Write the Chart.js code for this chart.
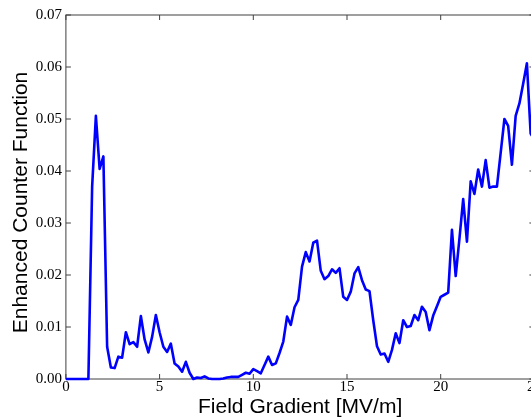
<!DOCTYPE html>
<html>
<head>
<meta charset="utf-8">
<script src="https://cdn.jsdelivr.net/npm/chart.js@4/dist/chart.umd.min.js"></script>
<style>
html,body{margin:0;padding:0;background:#fff;overflow:hidden;}
#wrap{width:550px;height:418px;}
</style>
</head>
<body>
<div id="wrap"><canvas id="c" width="550" height="418"></canvas></div>
<script>
// Field gradient [MV/m]
const fieldGradient = [
 0.0,0.2,0.4,0.6,0.8,1.0,1.2,1.4,1.6,1.8,
 2.0,2.2,2.4,2.6,2.8,3.0,3.2,3.4,3.6,3.8,
 4.0,4.2,4.4,4.6,4.8,5.0,5.2,5.4,5.6,5.8,
 6.0,6.2,6.4,6.6,6.8,7.0,7.2,7.4,7.6,7.8,
 8.0,8.2,8.4,8.6,8.8,9.0,9.2,9.4,9.6,9.8,
 10.0,10.2,10.4,10.6,10.8,11.0,11.2,11.4,11.6,11.8,
 12.0,12.2,12.4,12.6,12.8,13.0,13.2,13.4,13.6,13.8,
 14.0,14.2,14.4,14.6,14.8,15.0,15.2,15.4,15.6,15.8,
 16.0,16.2,16.4,16.6,16.8,17.0,17.2,17.4,17.6,17.8,
 18.0,18.2,18.4,18.6,18.8,19.0,19.2,19.4,19.6,19.8,
 20.0,20.2,20.4,20.6,20.8,21.0,21.2,21.4,21.6,21.8,
 22.0,22.2,22.4,22.6,22.8,23.0,23.2,23.4,23.6,23.8,
 24.0,24.2,24.4,24.6,24.8,25.0
];
// Enhanced counter function
const counterFunction = [
 0,0,0,0,0,0,0,0.037,0.0506,0.0404,
 0.0428,0.0062,0.0022,0.0021,0.0043,0.0041,0.0090,0.0067,0.0071,0.0062,
 0.0121,0.0076,0.0051,0.0081,0.0123,0.0090,0.0062,0.0052,0.0068,0.0030,
 0.0024,0.0014,0.0033,0.0012,0.0,0.0003,0.0002,0.0005,0.0001,0.0,
 0.0,0.0,0.0001,0.0003,0.0004,0.0004,0.0004,0.0008,0.0012,0.0010,
 0.0019,0.0015,0.0011,0.0027,0.0043,0.0027,0.0030,0.0050,0.0072,0.0120,
 0.0104,0.0138,0.0152,0.0216,0.0244,0.0226,0.0262,0.0266,0.0208,0.0192,
 0.0198,0.0211,0.0204,0.0213,0.0158,0.0152,0.0168,0.0203,0.0215,0.0190,
 0.0172,0.0169,0.0113,0.0063,0.0047,0.0049,0.0033,0.0056,0.0088,0.0069,
 0.0113,0.0100,0.0102,0.0123,0.0113,0.0139,0.0129,0.0094,0.0122,0.0140,
 0.0158,0.0162,0.0166,0.0287,0.0198,0.0270,0.0346,0.0264,0.0380,0.0356,
 0.0403,0.0370,0.0421,0.0368,0.0370,0.0370,0.0435,0.0500,0.0487,0.0412,
 0.0506,0.0530,0.0568,0.0607,0.0472,0.0460
];
const xTickValues = [0,5,10,15,20,25];
const yTickValues = [0,0.01,0.02,0.03,0.04,0.05,0.06,0.07];
const xTitle = 'Field Gradient [MV/m]';
const yTitle = 'Enhanced Counter Function';

const points = fieldGradient.map((x,i)=>({x:x, y:counterFunction[i]}));

const framePlugin = {
  id:'frame',
  beforeDraw(chart){
    const ys = chart.scales.y;
    if (ys && !ys.__shifted) {
      const orig = ys.drawTitle.bind(ys);
      ys.drawTitle = function(){
        const ctx = chart.ctx;
        ctx.save(); ctx.translate(0, 5.5); orig(); ctx.restore();
      };
      ys.__shifted = true;
    }
  },
  beforeDatasetsDraw(chart){
    const {ctx, chartArea:a, scales} = chart;
    const xs = scales.x, ys = scales.y;
    ctx.save();
    ctx.strokeStyle = '#404040';
    ctx.lineWidth = 1;
    ctx.strokeRect(a.left, a.top, a.right-a.left, a.bottom-a.top);
    const L = 5;
    ctx.beginPath();
    xTickValues.forEach(v=>{
      const p = xs.getPixelForValue(v);
      ctx.moveTo(p, a.bottom); ctx.lineTo(p, a.bottom-L);
      ctx.moveTo(p, a.top); ctx.lineTo(p, a.top+L);
    });
    yTickValues.forEach(v=>{
      const p = ys.getPixelForValue(v);
      ctx.moveTo(a.left, p); ctx.lineTo(a.left+L, p);
      ctx.moveTo(a.right, p); ctx.lineTo(a.right-L, p);
    });
    ctx.stroke();
    ctx.restore();
  }
};

new Chart(document.getElementById('c'), {
  type:'line',
  data:{
    datasets:[{
      data: points,
      borderColor:'#0000ff',
      borderWidth:2.6,
      pointRadius:0,
      tension:0,
      fill:false,
      borderJoinStyle:'round',
      clip: 2
    }]
  },
  options:{
    responsive:false,
    animation:false,
    devicePixelRatio:1,
    layout:{padding:{left:0, right:15.6, top:15, bottom:0}},
    plugins:{legend:{display:false}, tooltip:{enabled:false}},
    scales:{
      x:{
        type:'linear', min:0, max:25,
        afterBuildTicks(s){ s.ticks = xTickValues.map(v=>({value:v})); },
        afterFit(s){ s.height = 39; s.paddingLeft = 0; s.paddingRight = 0; },
        grid:{display:false, drawTicks:false},
        border:{display:false},
        ticks:{
          color:'#000', padding:1, maxRotation:0,
          font:{family:'"Liberation Serif", serif', size:15, lineHeight:1},
          callback:(v)=>String(v)
        },
        title:{display:true, text:xTitle, color:'#000', padding:{top:0,bottom:0},
          font:{family:'"Liberation Sans", Arial, sans-serif', size:21, lineHeight:1}}
      },
      y:{
        type:'linear', min:0, max:0.07,
        afterBuildTicks(s){ s.ticks = yTickValues.map(v=>({value:v})); },
        afterFit(s){ s.width = 65.9; s.paddingTop = 0; s.paddingBottom = 0; },
        grid:{display:false, drawTicks:false},
        border:{display:false},
        ticks:{
          color:'#000', padding:4,
          font:{family:'"Liberation Serif", serif', size:15, lineHeight:1},
          callback:(v)=>Number(v).toFixed(2)
        },
        title:{display:true, text:yTitle, color:'#000', padding:{top:10.5,bottom:0},
          font:{family:'"Liberation Sans", Arial, sans-serif', size:21, lineHeight:1}}
      }
    }
  },
  plugins:[framePlugin]
});
</script>
</body>
</html>
